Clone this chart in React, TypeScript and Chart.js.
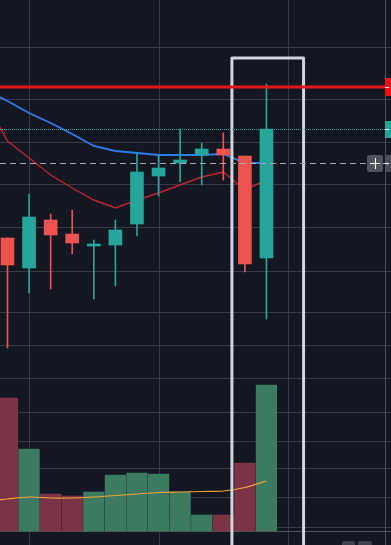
import React, { useEffect, useRef } from "react";
import { Chart, registerables } from "chart.js";

Chart.register(...registerables);

// ---- data ----
const candleIndex = [0, 1, 2, 3, 4, 5, 6, 7, 8, 9, 10, 11, 12];
const openPrices = [38.1, 36.6, 39.0, 38.3, 37.7, 37.75, 38.8, 41.2, 41.85, 42.25, 42.55, 42.2, 37.1];
const highPrices = [38.1, 40.3, 39.3, 39.5, 38.0, 39.0, 42.35, 42.25, 43.55, 42.85, 43.35, 42.2, 45.8];
const lowPrices = [32.6, 35.35, 35.55, 37.3, 35.05, 35.7, 38.2, 40.2, 40.9, 40.75, 41.0, 36.4, 34.05];
const closePrices = [36.75, 39.15, 38.25, 37.85, 37.8, 38.5, 41.4, 41.6, 42.0, 42.55, 42.25, 36.8, 43.55];
const volumes = [1330, 820, 370, 350, 390, 560, 580, 570, 390, 160, 160, 680, 1460];

const maIndex = [-1, 0, 1, 2, 3, 4, 5, 6, 7, 8, 9, 10, 11, 12];
const maSlow = [45.5, 44.95, 44.35, 43.85, 43.3, 42.7, 42.45, 42.35, 42.25, 42.25, 42.25, 42.3, 41.85, 41.85];
const maFast = [44.9, 42.95, 42.1, 41.25, 40.6, 40.0, 39.6, 40.0, 40.35, 40.75, 41.15, 41.4, 40.5, 41.0];
const volumeMa = [295, 320, 340, 330, 330, 340, 355, 370, 385, 390, 395, 400, 435, 500];

const priceGrid = [47.65, 45.05, 42.9, 40.8, 38.65, 36.45, 34.4, 32.75, 31.1, 29.4, 27.95, 26.6, 25.15, 23.65];
const timeGrid = [1, 7, 13];

const alertPrice = 45.65;
const crosshairPrice = 41.85;
const highlightFrom = 10.4;
const highlightTo = 13.72;
const highlightTop = 47.1;

const xRange = [-0.347, 17.493];
const priceRange = [22.75, 50];
const volumeRange = [-140, 5310];

// ---- styles ----
const BG = "#131722";
const GRID = "#363a45";
const UP = "#26a69a";
const DOWN = "#ef5350";
const VOL_UP = "#3c7b62";
const VOL_DOWN = "#7d3346";

const crisp = (v: number) => Math.round(v) + 0.5;

const overlayPlugin = {
  id: "overlay",
  beforeDraw(chart: any) {
    const { ctx, width, height } = chart;
    ctx.save();
    ctx.fillStyle = BG;
    ctx.fillRect(0, 0, width, height);
    ctx.restore();
  },
  beforeDatasetsDraw(chart: any) {
    const { ctx, chartArea: a, scales, width, height } = chart;
    const x = scales.x;
    const y = scales.y;
    const yv = scales.yVol;
    ctx.save();
    ctx.lineWidth = 1;
    ctx.strokeStyle = GRID;
    ctx.beginPath();
    for (const t of timeGrid) {
      const X = crisp(x.getPixelForValue(t));
      ctx.moveTo(X, 0);
      ctx.lineTo(X, height);
    }
    for (const p of priceGrid) {
      const Y = crisp(y.getPixelForValue(p));
      ctx.moveTo(0, Y);
      ctx.lineTo(width, Y);
    }
    ctx.stroke();
    // volume pane base line
    ctx.strokeStyle = "#4e525d";
    ctx.beginPath();
    const by = crisp(yv.getPixelForValue(0));
    ctx.moveTo(0, by);
    ctx.lineTo(width, by);
    ctx.stroke();
    // price axis border
    ctx.strokeStyle = "#4e525d";
    ctx.beginPath();
    const ax = crisp(a.right);
    ctx.moveTo(ax, 0);
    ctx.lineTo(ax, height);
    ctx.stroke();
    ctx.restore();
  },
  afterDatasetsDraw(chart: any) {
    const { ctx, chartArea: a, scales, width, height } = chart;
    const x = scales.x;
    const y = scales.y;
    ctx.save();

    // highlight rectangle
    const l = x.getPixelForValue(highlightFrom);
    const r = x.getPixelForValue(highlightTo);
    const t = y.getPixelForValue(highlightTop);
    ctx.strokeStyle = "#d1d4dc";
    ctx.lineWidth = 3;
    ctx.lineJoin = "round";
    ctx.strokeRect(l, t, r - l, height - t + 20);

    // last price dotted line
    const lastY = crisp(y.getPixelForValue(closePrices[closePrices.length - 1]));
    ctx.lineWidth = 1;
    ctx.strokeStyle = "#2bb3a5";
    ctx.setLineDash([1, 1]);
    ctx.beginPath();
    ctx.moveTo(0, lastY);
    ctx.lineTo(a.right, lastY);
    ctx.stroke();

    // crosshair dashed line
    const crossY = crisp(y.getPixelForValue(crosshairPrice));
    ctx.strokeStyle = "#a3a6af";
    ctx.setLineDash([6, 4]);
    ctx.beginPath();
    ctx.moveTo(0, crossY);
    ctx.lineTo(a.right, crossY);
    ctx.stroke();
    ctx.setLineDash([]);

    // alert red line
    const alertY = y.getPixelForValue(alertPrice);
    ctx.strokeStyle = "#e3161c";
    ctx.lineWidth = 3;
    ctx.beginPath();
    ctx.moveTo(0, alertY);
    ctx.lineTo(a.right, alertY);
    ctx.stroke();

    // right-side label boxes
    const boxX = a.right;
    const boxW = width - a.right;
    ctx.fillStyle = "#f20f12";
    ctx.fillRect(boxX, alertY - 9, boxW, 18);
    ctx.fillStyle = UP;
    ctx.fillRect(boxX, lastY - 8.5, boxW, 17);
    ctx.fillStyle = "#4a4e59";
    ctx.fillRect(boxX + 1, crossY - 8.5, boxW, 17);
    ctx.strokeStyle = "#ffffff";
    ctx.lineWidth = 1;
    ctx.beginPath();
    for (const yy of [Math.round(alertY) + 0.5, lastY, crossY]) {
      ctx.moveTo(boxX, yy);
      ctx.lineTo(boxX + 4, yy);
    }
    ctx.stroke();

    // plus button
    const bx = a.right - 18;
    ctx.fillStyle = "#50535e";
    ctx.beginPath();
    (ctx as any).roundRect(bx, crossY - 8.5, 16, 17, 2);
    ctx.fill();
    ctx.strokeStyle = "#ffffff";
    ctx.beginPath();
    ctx.moveTo(bx + 3, crossY);
    ctx.lineTo(bx + 13, crossY);
    ctx.moveTo(bx + 8.5, crossY - 5.5);
    ctx.lineTo(bx + 8.5, crossY + 5.5);
    ctx.stroke();

    // bottom buttons (cut off)
    ctx.fillStyle = "#3d414c";
    ctx.beginPath();
    (ctx as any).roundRect(342, height - 4, 13, 10, 2);
    (ctx as any).roundRect(358, height - 4, 14, 10, 2);
    ctx.fill();

    ctx.restore();
  },
};

export default function App() {
  const ref = useRef<HTMLCanvasElement | null>(null);

  useEffect(() => {
    if (!ref.current) return;
    const candleColors = candleIndex.map((i) => (closePrices[i] >= openPrices[i] ? UP : DOWN));
    const volumeColors = candleIndex.map((i) => (closePrices[i] >= openPrices[i] ? VOL_UP : VOL_DOWN));

    const chart = new Chart(ref.current, {
      type: "bar",
      data: {
        datasets: [
          {
            type: "bar",
            label: "Body",
            data: candleIndex.map((i) => ({ x: i, y: [openPrices[i], closePrices[i]] })),
            backgroundColor: candleColors,
            barThickness: 13,
            grouped: false,
            borderWidth: 0,
            borderSkipped: false,
            yAxisID: "y",
            order: 0,
          } as any,
          {
            type: "bar",
            label: "Wick",
            data: candleIndex.map((i) => ({ x: i, y: [lowPrices[i], highPrices[i]] })),
            backgroundColor: candleColors,
            barThickness: 1,
            grouped: false,
            borderWidth: 0,
            borderSkipped: false,
            yAxisID: "y",
            order: 1,
          } as any,
          {
            type: "line",
            label: "MA fast",
            data: maIndex.map((t, k) => ({ x: t, y: maFast[k] })),
            borderColor: "#c2242f",
            borderWidth: 1.4,
            pointRadius: 0,
            tension: 0,
            yAxisID: "y",
            order: 2,
          } as any,
          {
            type: "line",
            label: "MA slow",
            data: maIndex.map((t, k) => ({ x: t, y: maSlow[k] })),
            borderColor: "#2f7cf0",
            borderWidth: 1.8,
            pointRadius: 0,
            tension: 0,
            yAxisID: "y",
            order: 3,
          } as any,
          {
            type: "line",
            label: "Volume MA",
            data: maIndex.map((t, k) => ({ x: t, y: volumeMa[k] })),
            borderColor: "#f2a43a",
            borderWidth: 1.2,
            pointRadius: 0,
            tension: 0.3,
            yAxisID: "yVol",
            order: 4,
          } as any,
          {
            type: "bar",
            label: "Volume",
            data: candleIndex.map((i) => ({ x: i, y: volumes[i] })),
            backgroundColor: volumeColors,
            barThickness: 20.6,
            grouped: false,
            borderWidth: 0,
            yAxisID: "yVol",
            order: 5,
          } as any,
        ],
      },
      options: {
        responsive: false,
        maintainAspectRatio: false,
        animation: false,
        events: [],
        layout: { padding: { left: 0, top: 0, bottom: 0, right: 6 } },
        plugins: { legend: { display: false }, tooltip: { enabled: false } },
        scales: {
          x: { type: "linear", min: xRange[0], max: xRange[1], display: false, offset: false },
          y: { type: "linear", min: priceRange[0], max: priceRange[1], display: false },
          yVol: { type: "linear", min: volumeRange[0], max: volumeRange[1], display: false },
        } as any,
      },
      plugins: [overlayPlugin],
    } as any);

    return () => chart.destroy();
  }, []);

  return (
    <div style={{ position: "fixed", left: 0, top: 0, width: 391, height: 545, background: BG }}>
      <canvas ref={ref} width={391} height={545} style={{ display: "block", width: 391, height: 545 }} />
    </div>
  );
}
